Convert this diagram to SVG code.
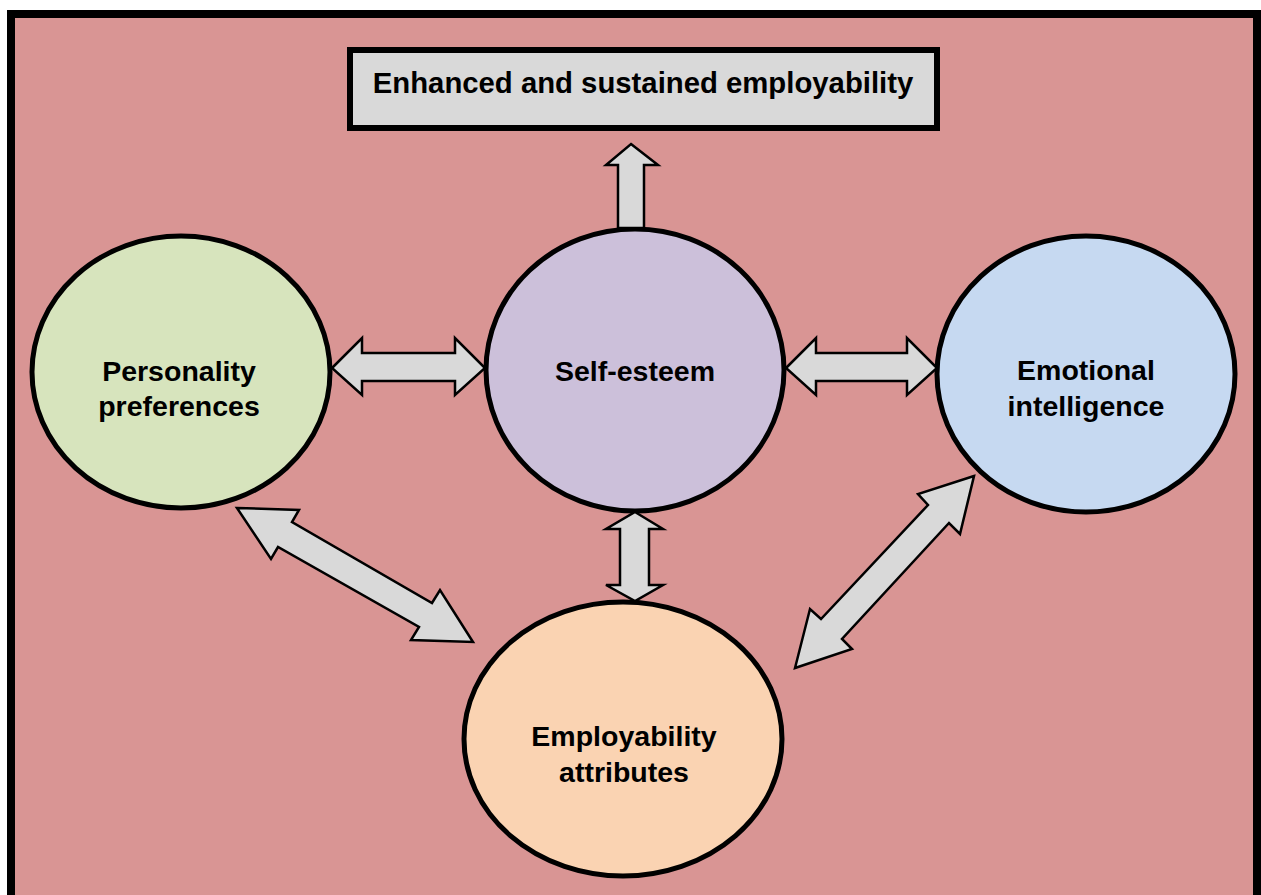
<svg xmlns="http://www.w3.org/2000/svg" width="1261" height="895" viewBox="0 0 1261 895">
<style>
.node{stroke:#000;stroke-width:5}
.lbl{font-family:"Liberation Sans",Arial,sans-serif;font-weight:bold;font-size:28.5px;fill:#000;text-anchor:middle}
.arr{fill:#D9D9D9;stroke:#000;stroke-width:2.5;stroke-linejoin:miter}
</style>
<rect x="0" y="0" width="1261" height="895" fill="#fff"/>
<rect x="11" y="14" width="1246" height="900" fill="#D99594" stroke="#000" stroke-width="8"/>
<g id="top">
<rect x="350" y="50" width="587" height="78" fill="#D9D9D9" stroke="#000" stroke-width="6"/>
<text class="lbl" x="643" y="93" style="font-size:29.3px">Enhanced and sustained employability</text>
</g>
<g id="personality">
<ellipse class="node" cx="181" cy="372" rx="149" ry="136" fill="#D7E4BD"/>
<text class="lbl" x="179" y="381">Personality</text>
<text class="lbl" x="179" y="416">preferences</text>
</g>
<g id="selfesteem">
<ellipse class="node" cx="635" cy="370" rx="149" ry="141" fill="#CCC0DA"/>
<text class="lbl" x="635" y="381">Self-esteem</text>
</g>
<g id="emotional">
<ellipse class="node" cx="1086" cy="374" rx="149" ry="138" fill="#C6D9F1"/>
<text class="lbl" x="1086" y="380">Emotional</text>
<text class="lbl" x="1086" y="416">intelligence</text>
</g>
<g id="employability">
<ellipse class="node" cx="623" cy="739" rx="159" ry="137" fill="#FAD3B2"/>
<text class="lbl" x="624" y="746">Employability</text>
<text class="lbl" x="624" y="782">attributes</text>
</g>
<g id="connectors">
<polygon class="arr" points="631,144 658,165 644,165 644,228 618,228 618,165 606,165"/>
<polygon class="arr" points="332,368 362,338 362,353 455,353 455,338 485,368 455,395 455,381 362,381 362,395"/>
<polygon class="arr" points="786,368 816,338 816,353 907,353 907,338 937,368 907,395 907,381 816,381 816,395"/>
<polygon class="arr" points="635,512 663,529 649,529 649,585 663,585 635,601 606,585 620,585 620,529 606,529"/>
<polygon class="arr" points="237,508 299,510 292,522 432,603 440,590 473,642 411,640 419,627 278,547 271,559"/>
<polygon class="arr" points="974,476 918,494 928,505 821,619 810,609 795,668 852,649 842,639 949,523 960,534"/>
</g>
</svg>
